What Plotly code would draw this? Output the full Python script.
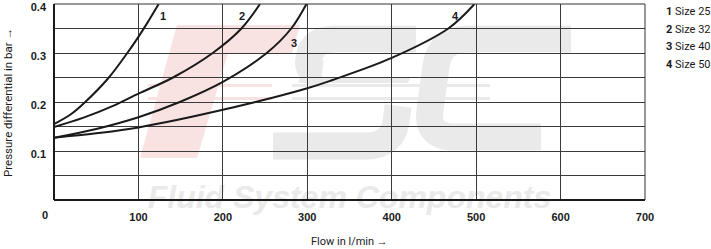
import plotly.graph_objects as go

# ---- data ----
flow_1 = [0, 20, 37, 64, 86, 100, 110, 124]
dp_1 = [0.155, 0.175, 0.2, 0.248, 0.298, 0.333, 0.36, 0.4]

flow_2 = [0, 35, 70, 100, 141, 188, 222, 244]
dp_2 = [0.149, 0.168, 0.192, 0.217, 0.25, 0.3, 0.35, 0.4]

flow_3 = [0, 50, 100, 149, 200, 252, 281, 299]
dp_3 = [0.127, 0.145, 0.169, 0.2, 0.241, 0.3, 0.35, 0.4]

flow_4 = [0, 50, 100, 200, 300, 330, 400, 467, 498]
dp_4 = [0.127, 0.136, 0.148, 0.184, 0.228, 0.245, 0.29, 0.35, 0.4]

curve_ids = ["1", "2", "3", "4"]
curve_names = ["Size 25", "Size 32", "Size 40", "Size 50"]
label_pos_x = [129, 223, 284, 475]
label_pos_y = [0.375, 0.375, 0.32, 0.375]

x_ticks = [100, 200, 300, 400, 500, 600, 700]
y_ticks = [0.1, 0.2, 0.3, 0.4]

REG = "Roboto, Liberation Sans, Arial, sans-serif"
BOLD = "Liberation Sans, Arial, sans-serif"
INK = "#1a1a1a"

# plot-area geometry in pixels (used only for the decorative watermark)
L, R, T, B = 54, 645, 4, 200


def pp(px, py):
    return f"{(px - L) / (R - L):.4f},{(B - py) / (B - T):.4f}"


def poly(pts):
    return "M " + " L ".join(pp(x, y) for x, y in pts) + " Z"


fig = go.Figure()
series = [(flow_1, dp_1), (flow_2, dp_2), (flow_3, dp_3), (flow_4, dp_4)]
for (fx, fy), cid, nm in zip(series, curve_ids, curve_names):
    fig.add_trace(go.Scatter(x=fx, y=fy, mode="lines", name=f"{cid} {nm}",
                             line=dict(color=INK, width=2, shape="spline", smoothing=1.0),
                             showlegend=False, hoverinfo="skip"))

# curve number labels
for cid, lx, ly in zip(curve_ids, label_pos_x, label_pos_y):
    fig.add_annotation(x=lx, y=ly, text=cid, showarrow=False,
                       font=dict(family=BOLD, size=11, color=INK, weight="bold"))

# legend text at right
for i, (cid, nm) in enumerate(zip(curve_ids, curve_names)):
    fig.add_annotation(xref="paper", yref="paper", x=1.0, y=1.0, xanchor="left", yanchor="middle",
                       xshift=19, yshift=-(7.5 + 17.5 * i),
                       text=f"<b>{cid}</b> {nm}", showarrow=False, align="left",
                       font=dict(family=REG, size=11, color=INK))

# the separate "0" label on the x axis
fig.add_annotation(xref="paper", yref="paper", x=0, y=0, text="0", showarrow=False,
                   xanchor="center", yanchor="top", xshift=-9, yshift=-7,
                   font=dict(family=BOLD, size=11, color=INK, weight="bold"))

# axis titles
fig.add_annotation(xref="paper", yref="paper", x=0.5, y=0, yanchor="middle", yshift=-41,
                   text="Flow in l/min \u2192", showarrow=False,
                   font=dict(family=REG, size=11, color=INK))
fig.add_annotation(xref="paper", yref="paper", x=0, y=0.5, xanchor="center", xshift=-46,
                   yshift=-1, textangle=-90, text="Pressure differential in bar \u2192", showarrow=False,
                   font=dict(family=REG, size=11.5, color=INK))

# ---- watermark (drawn below gridlines) ----
wm_gray = "#eaeaea"
wm_red = "#f8e2e2"
# F
fig.add_shape(type="path", xref="paper", yref="paper", layer="below", line=dict(width=0), fillcolor=wm_red,
              path=poly([(177, 25), (300, 25), (292, 53), (228, 53), (197, 158), (140, 158)]))
for sy in (85.5, 98.5):
    fig.add_shape(type="line", xref="paper", yref="paper", layer="below", line=dict(width=3, color=wm_red),
                  x0=(148 - L) / (R - L), x1=(272 - L) / (R - L), y0=(B - sy) / (B - T), y1=(B - sy) / (B - T))
    fig.add_shape(type="line", xref="paper", yref="paper", layer="below", line=dict(width=3, color=wm_gray),
                  x0=(292 - L) / (R - L), x1=(490 - L) / (R - L), y0=(B - sy) / (B - T), y1=(B - sy) / (B - T))
# S
fig.add_shape(type="path", xref="paper", yref="paper", layer="below", line=dict(width=27, color=wm_gray),
              fillcolor="rgba(0,0,0,0)",
              path=f"M {pp(416, 39)} L {pp(335, 39)} Q {pp(312, 39)} {pp(309, 58)} Q {pp(306, 72)} {pp(322, 74)}")
fig.add_shape(type="path", xref="paper", yref="paper", layer="below", line=dict(width=27, color=wm_gray),
              fillcolor="rgba(0,0,0,0)",
              path=f"M {pp(398, 106)} L {pp(396, 122)} Q {pp(392, 146)} {pp(366, 146)} L {pp(273, 146)}")
fig.add_shape(type="path", xref="paper", yref="paper", layer="below", line=dict(width=0), fillcolor=wm_gray,
              path=poly([(300, 78), (410, 78), (408, 83), (298, 83)]))
# C
fig.add_shape(type="path", xref="paper", yref="paper", layer="below", line=dict(width=27, color=wm_gray),
              fillcolor="rgba(0,0,0,0)",
              path=f"M {pp(571, 39)} L {pp(468, 39)} Q {pp(440, 39)} {pp(436, 66)} L {pp(430, 110)} "
                   f"Q {pp(426, 137)} {pp(455, 137)} L {pp(541, 137)}")
# text line
fig.add_shape(type="rect", xref="paper", yref="paper", x0=0.14, x1=0.86, y0=-0.09, y1=0.15,
              line=dict(width=0), fillcolor="rgba(0,0,0,0)", layer="below",
              label=dict(text="<b><i>Fluid System Components</i></b>", textposition="middle center",
                         font=dict(family=BOLD, size=32, color=wm_gray)))

# frame: thin top/right, thick left/bottom
fig.add_shape(type="line", xref="paper", yref="paper", x0=0, x1=1, y0=1, y1=1, line=dict(color="#333", width=1))
fig.add_shape(type="line", xref="paper", yref="paper", x0=1, x1=1, y0=0, y1=1, line=dict(color="#333", width=1))
fig.add_shape(type="line", xref="paper", yref="paper", x0=0, x1=1, y0=0, y1=0, line=dict(color=INK, width=2))
fig.add_shape(type="line", xref="paper", yref="paper", x0=0, x1=0, y0=0, y1=1, line=dict(color=INK, width=2))

fig.update_xaxes(range=[0, 700], tickvals=x_ticks, showgrid=True, gridcolor="#3a3a3a", gridwidth=1,
                 zeroline=False, showline=False, ticks="", ticklabelstandoff=9, ticklabeloverflow="allow",
                 automargin=False,
                 tickfont=dict(family=BOLD, size=11, color=INK, weight="bold"))
fig.update_yaxes(range=[0, 0.4], tickvals=y_ticks, ticktext=["0.1", "0.2", "0.3", "0.4"],
                 showgrid=True, gridcolor="#3a3a3a", gridwidth=1, zeroline=False, showline=False,
                 ticks="", ticklabelstandoff=7, ticklabelshift=3, ticklabeloverflow="allow", automargin=False,
                 tickfont=dict(family=BOLD, size=11, color=INK, weight="bold"))
fig.update_yaxes(minor=dict(dtick=0.05, showgrid=True, gridcolor="#3a3a3a", gridwidth=1, ticks=""))

fig.update_layout(width=711, height=249, margin=dict(l=54, r=66, t=4, b=49),
                  paper_bgcolor="white", plot_bgcolor="white", showlegend=False)

fig.write_html("out.html")
